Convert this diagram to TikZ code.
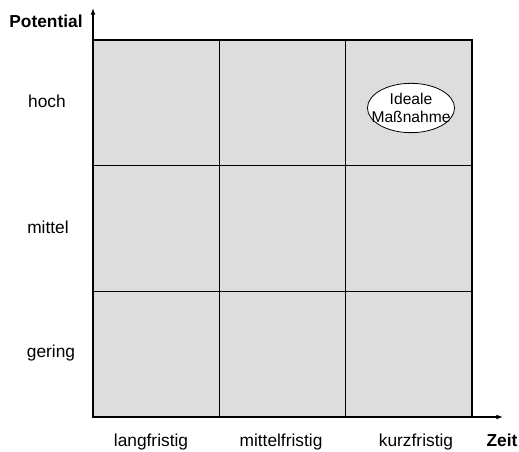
\documentclass[tikz,border=0pt]{standalone}
\usepackage{fontspec}
\setmainfont{Liberation Sans}
\usetikzlibrary{shapes.geometric,arrows.meta}

\begin{document}
\begin{tikzpicture}[
    x=0.75pt, y=-0.75pt,
    cell/.style={rectangle, draw, line width=0.9pt, fill=gray!27, minimum width=94.75pt, minimum height=94.25pt, inner sep=0pt, outer sep=0pt}, % Stil für Felder
    label/.style={anchor=base, font=\fontsize{13}{15}\selectfont}, % Stil für Beschriftungen
    axis/.style={line width=0.8pt, -{Latex[length=5pt,width=3.6pt]}}, % Stil für Achsen
    ideal/.style={ellipse, draw, fill=white, line width=0.6pt, minimum width=65pt, minimum height=37pt, inner xsep=-6.5pt, inner ysep=1pt, align=center, font=\fontsize{11.7}{13.5}\selectfont} % Stil für Ellipse
]
    \useasboundingbox (0,0) rectangle (519,452);

    % Felder der Matrix
    \foreach \i/\x in {1/156.2, 2/282.5, 3/408.8} {
        \foreach \j/\y in {1/102.8, 2/228.5, 3/354.2} {
            \node[cell] (c\i\j) at (\x,\y) {};
        }
    }

    % Achsen
    \coordinate (O) at (93,417);
    \coordinate (Ytop) at (93,8);
    \coordinate (Xend) at (503,417);
    \draw[axis] (O) -- (Ytop);
    \draw[axis] (O) -- (Xend);

    % Beschriftung Potential
    \node[label, font=\fontsize{13}{15}\selectfont\bfseries] (pot) at (46,28) {Potential};
    \node[label] (hoch) at (47,108) {hoch};
    \node[label] (mittel) at (48,234) {mittel};
    \node[label] (gering) at (51,358) {gering};

    % Beschriftung Zeit
    \node[label] (lang) at (151,447) {langfristig};
    \node[label] (mittelf) at (281,447) {mittelfristig};
    \node[label] (kurz) at (416,447) {kurzfristig};
    \node[label, font=\fontsize{13}{15}\selectfont\bfseries] (zeit) at (502,447) {Zeit};

    % Ideale Maßnahme
    \node[ideal] (ideal) at (411,108) {Ideale\\Maßnahme};

\end{tikzpicture}
\end{document}
